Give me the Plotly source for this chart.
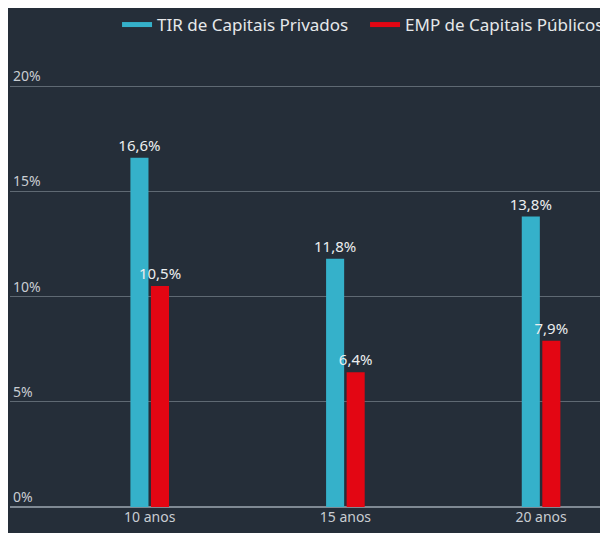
import plotly.graph_objects as go

categories = ["10 anos", "15 anos", "20 anos"]
tir_privados = [16.6, 11.8, 13.8]
emp_publicos = [10.5, 6.4, 7.9]
series_names = ["TIR de Capitais Privados", "EMP de Capitais Públicos"]
y_ticks = [0, 5, 10, 15, 20]
y_tick_labels = ["0%", "5%", "10%", "15%", "20%"]

CYAN = "#35b1ca"
RED = "#e30613"
BG = "#252e39"
FONT = "Noto Sans"

def fmt(v):
    return f"{v:.1f}".replace(".", ",") + "%"

xpos = list(range(len(categories)))

fig = go.Figure()
fig.add_trace(go.Bar(
    x=xpos, y=tir_privados, marker=dict(color=CYAN, line=dict(width=0)), showlegend=False,
    text=[fmt(v) for v in tir_privados], textposition="outside", constraintext="none",
    textfont=dict(color="#eceef0", size=15, family=FONT), cliponaxis=False,
))
fig.add_trace(go.Bar(
    x=xpos, y=emp_publicos, marker=dict(color=RED, line=dict(width=0)), showlegend=False,
    text=[fmt(v) for v in emp_publicos], textposition="outside", constraintext="none",
    textfont=dict(color="#eceef0", size=15, family=FONT), cliponaxis=False,
))
# legend entries drawn as lines
fig.add_trace(go.Scatter(x=[None], y=[None], mode="lines", name=series_names[0],
                         line=dict(color=CYAN, width=5)))
fig.add_trace(go.Scatter(x=[None], y=[None], mode="lines", name=series_names[1],
                         line=dict(color=RED, width=5)))

fig.update_layout(
    width=600, height=525,
    paper_bgcolor=BG, plot_bgcolor=BG,
    margin=dict(l=2, r=0, t=55, b=26, autoexpand=False),
    barmode="group", bargap=0.79, bargroupgap=0.12,
    font=dict(family=FONT, color="#c9cdd2", size=14),
    legend=dict(orientation="h", x=0.179, xanchor="left", y=1.0856, yanchor="middle",
                font=dict(size=17, color="#e6e8ea"), bgcolor="rgba(0,0,0,0)",
                itemwidth=30, traceorder="normal", entrywidth=203),
    xaxis=dict(tickvals=xpos, ticktext=categories, range=[-0.714, 2.342],
               showgrid=False, zeroline=False, showline=False,
               tickfont=dict(size=14, color="#c9cdd2")),
    yaxis=dict(range=[0, 21.1], tickvals=y_ticks, ticktext=y_tick_labels,
               ticklabelposition="inside top", showgrid=True,
               gridcolor="#5f6973", gridwidth=1, zeroline=True,
               zerolinecolor="#7f8993", zerolinewidth=2,
               tickfont=dict(size=14, color="#c9cdd2")),
)

fig.write_html("out.html")
